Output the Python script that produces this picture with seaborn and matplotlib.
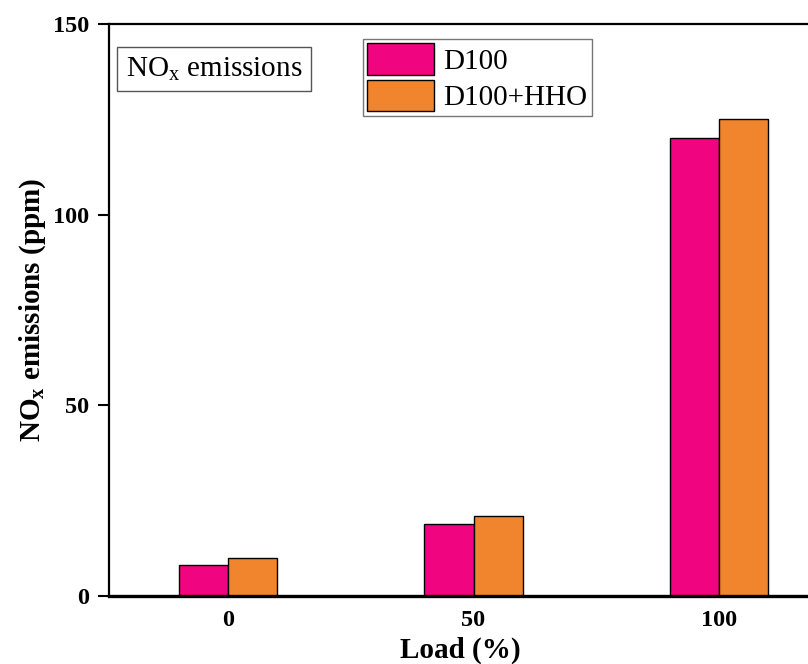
import matplotlib
matplotlib.use("Agg")
import matplotlib.pyplot as plt
import seaborn as sns
import pandas as pd

loads = ["0", "50", "100"]
d100 = [8, 19, 120]
d100_hho = [10, 21, 125]
series = ["D100", "D100+HHO"]
colors = ["#F0047F", "#F0852D"]
yticks = [0, 50, 100, 150]

sns.set_theme(style="white")
plt.rcParams["font.family"] = ["Liberation Serif", "DejaVu Serif"]
plt.rcParams["mathtext.fontset"] = "custom"
plt.rcParams["mathtext.rm"] = "Liberation Serif"
plt.rcParams["mathtext.bf"] = "Liberation Serif:bold"
plt.rcParams["mathtext.it"] = "Liberation Serif:italic"
for k in ["text.color", "axes.labelcolor", "xtick.color", "ytick.color", "axes.edgecolor"]:
    plt.rcParams[k] = "black"

df = pd.DataFrame({
    "Load": loads * 2,
    "NOx": d100 + d100_hho,
    "Fuel": [series[0]] * 3 + [series[1]] * 3,
})

fig = plt.figure(figsize=(8.08, 6.64), dpi=100)
ax = fig.add_axes([109 / 808, 68 / 664, (812 - 109) / 808, 572 / 664])

sns.barplot(data=df, x="Load", y="NOx", hue="Fuel", palette=colors, saturation=1,
            width=0.4, edgecolor="black", linewidth=1.0, ax=ax)

ax.set_xlim(-0.485, (812 - 228) / 245.5)
ax.set_ylim(0, 150)
ax.set_yticks(yticks)
ax.set_yticklabels([str(v) for v in yticks], fontsize=17.5, fontweight="bold")
ax.set_xticks(range(len(loads)))
ax.set_xticklabels(loads, fontsize=17.5, fontweight="bold")
ax.tick_params(axis="y", direction="out", length=8, width=1.5, pad=6, left=True, color="black")
ax.tick_params(axis="x", length=0, pad=10)

for side in ["left", "top", "right"]:
    ax.spines[side].set_linewidth(1.6)
    ax.spines[side].set_color("black")
ax.spines["bottom"].set_linewidth(2.4)
ax.spines["bottom"].set_color("black")
ax.spines["right"].set_visible(False)

ax.set_xlabel("Load (%)", fontsize=21, fontweight="bold", labelpad=4)
ax.set_ylabel(r"NO$_\mathbf{x}$ emissions (ppm)", fontsize=21, fontweight="bold", labelpad=4)

handles, labels = ax.get_legend_handles_labels()
leg = ax.legend(handles, labels, loc="upper left", bbox_to_anchor=((363 - 109) / 703, 1 - (39 - 24) / 572),
                fontsize=21, frameon=True, fancybox=False, edgecolor="#555555",
                handlelength=2.3, handleheight=1.3, handletextpad=0.3, borderpad=0.15,
                labelspacing=0.15, borderaxespad=0)
leg.get_frame().set_linewidth(1.0)
for h in leg.legend_handles:
    h.set_edgecolor("black")
    h.set_linewidth(1.0)

ax.text((126 - 109) / 703, 1 - (69 - 24) / 572, r"NO$_\mathrm{x}$ emissions", transform=ax.transAxes,
        fontsize=21, va="center", ha="left",
        bbox=dict(boxstyle="square,pad=0.3", facecolor="white", edgecolor="#555555", linewidth=1.0))

fig.savefig("out.png", dpi=100)
